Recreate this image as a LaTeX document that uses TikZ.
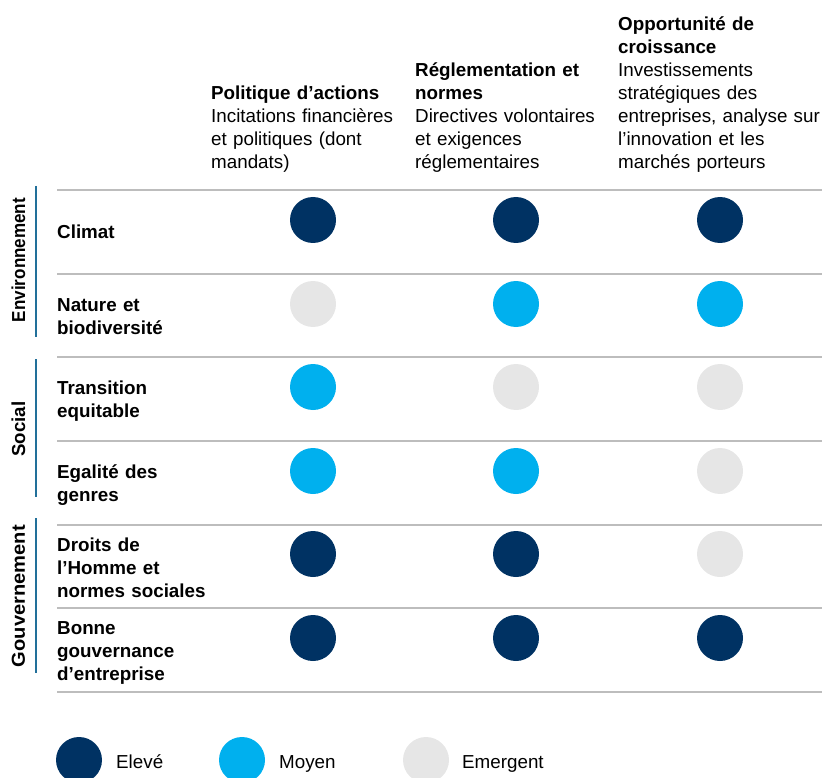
\documentclass[tikz,border=0pt]{standalone}
\usepackage{fontspec}
\setmainfont{Liberation Sans}
\definecolor{navy}{HTML}{003263}
\definecolor{sky}{HTML}{00B0EE}
\definecolor{pale}{HTML}{E6E6E6}
\definecolor{rule}{HTML}{BDBDBD}
\definecolor{bar}{HTML}{22709A}
\begin{document}
\begin{tikzpicture}[x=1pt,y=-1pt,
  txt/.style={inner sep=0pt,font=\fontsize{18.8}{23}\selectfont,text width=240pt,align=left,anchor=base west},
  rowlbl/.style={txt,font=\fontsize{18.8}{23}\selectfont\bfseries},
  grp/.style={inner sep=0pt,font=\fontsize{18.8}{23}\selectfont\bfseries,rotate=90,anchor=center},
  dot/.style={circle,inner sep=0pt,minimum size=46pt},
  hi/.style={dot,fill=navy},
  mid/.style={dot,fill=sky},
  lo/.style={dot,fill=pale},
  sep/.style={draw=rule,line width=1.4pt},
  gbar/.style={draw=bar,line width=2.6pt}]
\useasboundingbox (0,0) rectangle (822,778);
% headers
\node[txt] (h1) at (211,100) {\textbf{Politique d’actions}\\Incitations financières\\et politiques (dont\\mandats)};
\node[txt] (h2) at (415,77) {\textbf{Réglementation et}\\\textbf{normes}\\Directives volontaires\\et exigences\\réglementaires};
\node[txt] (h3) at (618,31) {\textbf{Opportunité de}\\\textbf{croissance}\\Investissements\\stratégiques des\\entreprises, analyse sur\\l’innovation et les\\marchés porteurs};
% separators
\foreach \y [count=\i] in {190,274,357,441,525,608,692}{
  \coordinate (l\i) at (57,\y);
  \coordinate (r\i) at (822,\y);
  \draw[sep] (l\i) -- (r\i);
}
% group bars
\coordinate (e1) at (36,186); \coordinate (e2) at (36,337);
\coordinate (s1) at (36,359); \coordinate (s2) at (36,497);
\coordinate (g1) at (36,518); \coordinate (g2) at (36,673);
\draw[gbar] (e1) -- (e2);
\draw[gbar] (s1) -- (s2);
\draw[gbar] (g1) -- (g2);
\node[grp] (genv) at (18.5,260) {\resizebox{124pt}{\height}{Environnement}};
\node[grp] (gsoc) at (18.5,429) {\resizebox{55pt}{\height}{Social}};
\node[grp] (ggov) at (18.5,596) {\resizebox{142pt}{\height}{Gouvernement}};
% row labels
\node[rowlbl] (t1) at (57,239) {Climat};
\node[rowlbl] (t2) at (57,311) {Nature et\\biodiversité};
\node[rowlbl] (t3) at (57,394) {Transition\\equitable};
\node[rowlbl] (t4) at (57,478) {Egalité des\\genres};
\node[rowlbl] (t5) at (57,551) {Droits de\\l’Homme et\\normes sociales};
\node[rowlbl] (t6) at (57,634) {Bonne\\gouvernance\\d’entreprise};
% dots
\node[hi]  (c11) at (313,220) {};
\node[hi]  (c12) at (516,220) {};
\node[hi]  (c13) at (720,220) {};
\node[lo]  (c21) at (313,304) {};
\node[mid] (c22) at (516,304) {};
\node[mid] (c23) at (720,304) {};
\node[mid] (c31) at (313,387) {};
\node[lo]  (c32) at (516,387) {};
\node[lo]  (c33) at (720,387) {};
\node[mid] (c41) at (313,471) {};
\node[mid] (c42) at (516,471) {};
\node[lo]  (c43) at (720,471) {};
\node[hi]  (c51) at (313,554) {};
\node[hi]  (c52) at (516,554) {};
\node[lo]  (c53) at (720,554) {};
\node[hi]  (c61) at (313,638) {};
\node[hi]  (c62) at (516,638) {};
\node[hi]  (c63) at (720,638) {};
% legend
\node[hi]  (k1) at (79,760) {};
\node[mid] (k2) at (242,760) {};
\node[lo]  (k3) at (426,760) {};
\node[txt] (kt1) at (116,768) {Elevé};
\node[txt] (kt2) at (279,768) {Moyen};
\node[txt] (kt3) at (462,768) {Emergent};
\end{tikzpicture}
\end{document}
